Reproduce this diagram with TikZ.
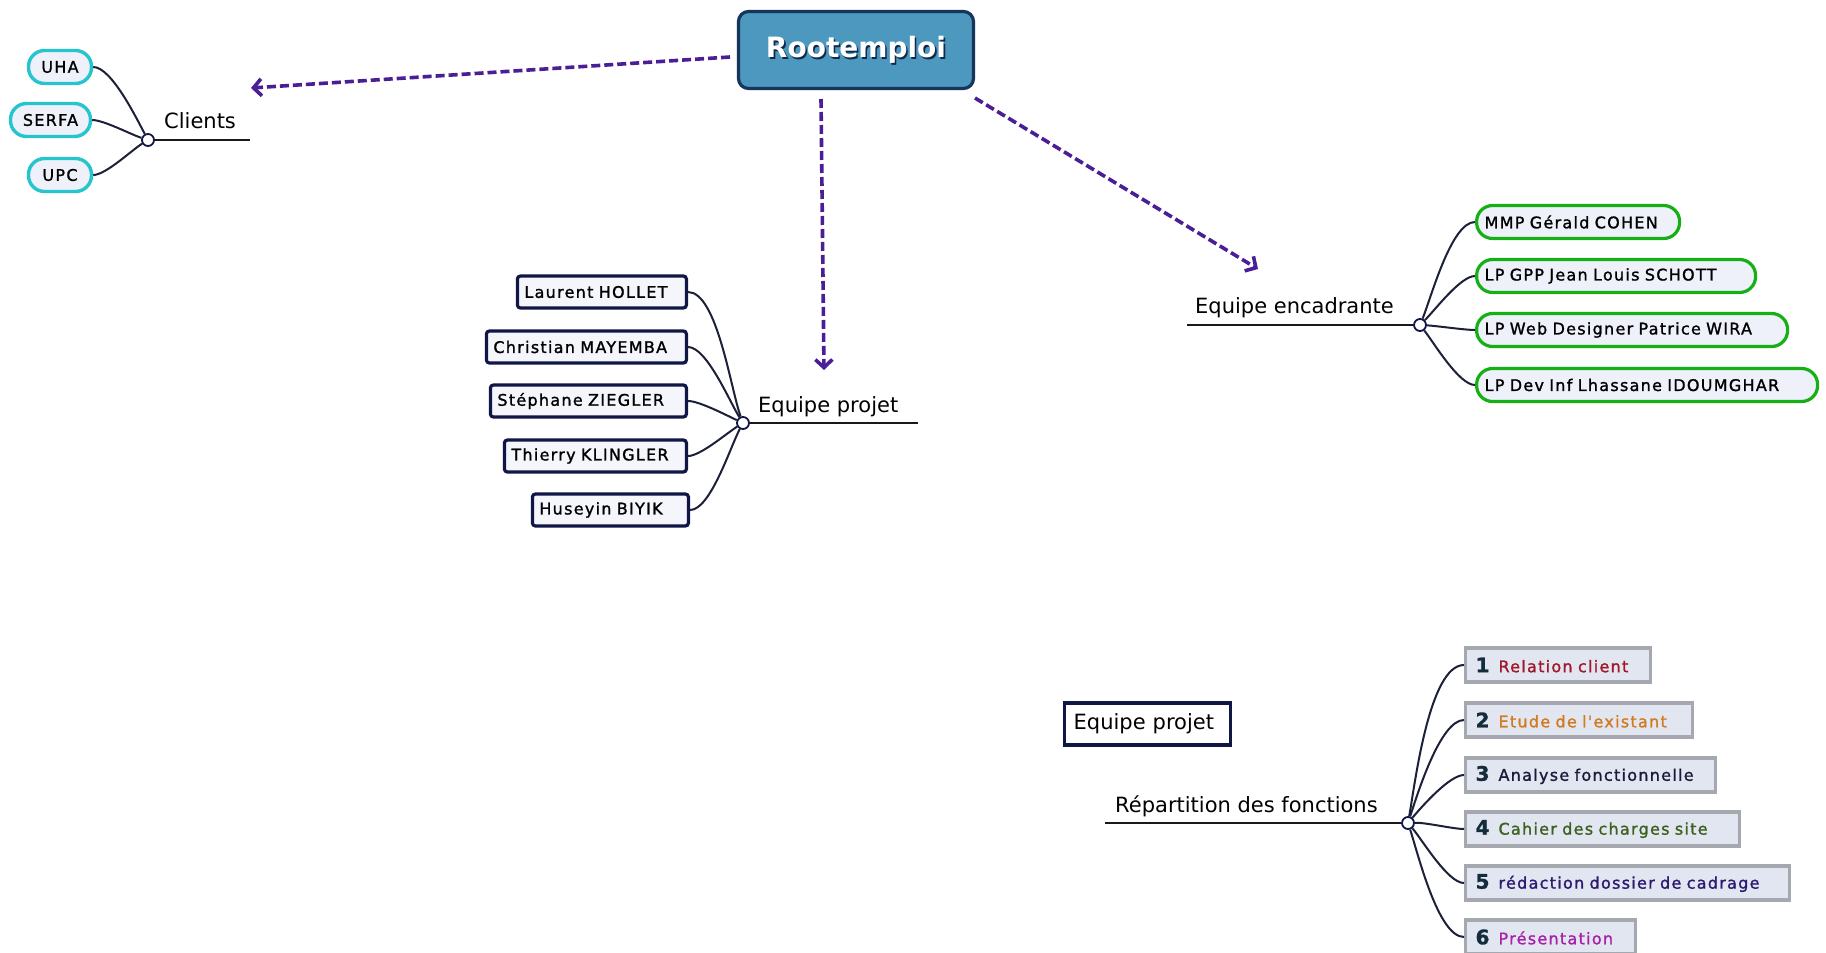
\documentclass[tikz,border=0pt]{standalone}
\usepackage{fontspec}
\setmainfont{DejaVu Sans}
\newfontfamily\boxfont[LetterSpace=8,FakeBold=1.3]{DejaVu Sans}
\usetikzlibrary{arrows.meta,calc}
\definecolor{cyanB}{RGB}{38,196,204}
\definecolor{pillfill}{RGB}{238,240,250}
\definecolor{navyB}{RGB}{16,22,70}
\definecolor{boxfill}{RGB}{244,246,252}
\definecolor{greenB}{RGB}{22,176,22}
\definecolor{grayB}{RGB}{166,168,176}
\definecolor{grayfill}{RGB}{226,230,240}
\definecolor{rootfill}{RGB}{76,152,190}
\definecolor{rootborder}{RGB}{22,52,92}
\definecolor{arrowc}{RGB}{74,30,150}
\definecolor{linkc}{RGB}{28,32,56}
\definecolor{numc}{RGB}{20,44,60}
\definecolor{cA}{RGB}{160,24,44}
\definecolor{cB}{RGB}{210,122,32}
\definecolor{cC}{RGB}{26,26,60}
\definecolor{cD}{RGB}{60,96,32}
\definecolor{cE}{RGB}{42,26,112}
\definecolor{cF}{RGB}{168,32,168}
\newcommand{\bxf}{\boxfont\fontsize{16}{19}\selectfont}
\newcommand{\labf}{\fontsize{21}{25}\selectfont}
\newcommand{\numf}[1]{{\fontsize{20}{20}\selectfont\bfseries\color{numc}#1}\hspace{9pt}}
\tikzset{
  rootbox/.style={draw=rootborder, line width=3.2pt, fill=rootfill, rounded corners=10pt, minimum width=235pt, minimum height=77pt, inner sep=0pt},
  pill/.style={draw=cyanB, line width=3.4pt, fill=pillfill, rounded corners=16pt, minimum height=33pt, inner sep=0pt, font=\bxf},
  navybox/.style={draw=navyB, line width=3.2pt, fill=boxfill, rounded corners=3pt, minimum height=32pt, inner ysep=0pt, inner xsep=7pt, align=left, font=\bxf, anchor=east},
  greenbox/.style={draw=greenB, line width=3.2pt, fill=pillfill, rounded corners=16pt, minimum height=33pt, inner ysep=0pt, inner xsep=8pt, align=left, font=\bxf, anchor=west},
  graybox/.style={draw=grayB, line width=3.2pt, fill=grayfill, minimum height=34pt, inner ysep=0pt, inner xsep=10pt, align=left, font=\bxf, anchor=west},
  epbox/.style={draw=navyB, line width=3.4pt, fill=white, minimum height=42pt, inner ysep=0pt, inner xsep=9pt, align=left, font=\labf, anchor=west},
  hub/.style={circle, draw=navyB, fill=white, line width=1.8pt, minimum size=12pt, inner sep=0pt},
  lab/.style={inner sep=0pt, font=\labf, anchor=base west},
  link/.style={draw=linkc, line width=2pt, looseness=0.55},
  uline/.style={draw=black!90, line width=2pt},
  dasharrow/.style={draw=arrowc, line width=3.6pt, dash pattern=on 9pt off 4pt, -{Straight Barb[length=8pt,width=17pt]}}
}
\begin{document}
\begin{tikzpicture}[x=1pt,y=1pt]
\useasboundingbox (0,0) rectangle (1826,-953);
\fill[white] (0,0) rectangle (1826,-953);

% Root
\node[rootbox] (root) at (856,-50) {};
\node[font=\bfseries\fontsize{28}{30}\selectfont, text=rootborder!80!black, inner sep=0pt] (rootshadow) at ([shift={(1.6,-1.6)}]root.center) {Rootemploi};
\node[font=\bfseries\fontsize{28}{30}\selectfont, text=white, inner sep=0pt] (roottext) at (root.center) {Rootemploi};

% Clients
\node[pill, minimum width=63pt] (uha) at (60,-67) {UHA};
\node[pill, minimum width=80pt] (serfa) at (50.5,-120) {SERFA};
\node[pill, minimum width=63pt] (upc) at (60,-175) {UPC};
\node[hub] (hc) at (148,-140) {};
\coordinate (ce) at (250,-140);
\draw[uline] (hc.east) -- (ce);
\node[lab] (clients) at (164,-128) {Clients};
\draw[link] (hc) to[out=118,in=0] (uha.east);
\draw[link] (hc) to[out=162,in=0] (serfa.east);
\draw[link] (hc) to[out=212,in=0] (upc.east);

% Equipe projet
\node[navybox, text width=155pt] (lh) at (688,-292) {Laurent HOLLET};
\node[navybox, text width=186pt] (cm) at (688,-347) {Christian MAYEMBA};
\node[navybox, text width=182pt] (sz) at (688,-401) {Stéphane ZIEGLER};
\node[navybox, text width=168pt] (tk) at (688,-456) {Thierry KLINGLER};
\node[navybox, text width=142pt] (hb) at (690,-510) {Huseyin BIYIK};
\node[hub] (hp) at (743,-423) {};
\coordinate (pe) at (918,-423);
\draw[uline] (hp.east) -- (pe);
\node[lab] (projet) at (758,-412) {Equipe projet};
\draw[link] (hp) to[out=110,in=0] (lh.east);
\draw[link] (hp) to[out=122,in=0] (cm.east);
\draw[link] (hp) to[out=155,in=0] (sz.east);
\draw[link] (hp) to[out=212,in=0] (tk.east);
\draw[link] (hp) to[out=242,in=0] (hb.east);

% Equipe encadrante
\node[greenbox, text width=187pt] (g1) at (1475,-222) {MMP Gérald COHEN};
\node[greenbox, text width=263pt] (g2) at (1475,-276) {LP GPP Jean Louis SCHOTT};
\node[greenbox, text width=295pt] (g3) at (1475,-330) {LP Web Designer Patrice WIRA};
\node[greenbox, text width=325pt] (g4) at (1475,-385) {LP Dev Inf Lhassane IDOUMGHAR};
\node[hub] (he) at (1420,-325) {};
\coordinate (es) at (1187,-325);
\draw[uline] (es) -- (he.west);
\node[lab] (encadrante) at (1195,-313) {Equipe encadrante};
\draw[link] (he) to[out=68,in=180] (g1.west);
\draw[link] (he) to[out=45,in=180] (g2.west);
\draw[link] (he) to[out=-3,in=180] (g3.west);
\draw[link] (he) to[out=-52,in=180] (g4.west);

% Repartition
\node[epbox, text width=148pt] (epb) at (1063,-724) {Equipe projet};
\node[graybox, text width=165pt] (r1) at (1464,-665) {\numf{1}\textcolor{cA}{Relation client}};
\node[graybox, text width=207pt] (r2) at (1464,-720) {\numf{2}\textcolor{cB}{Etude de l'existant}};
\node[graybox, text width=230pt] (r3) at (1464,-775) {\numf{3}\textcolor{cC}{Analyse fonctionnelle}};
\node[graybox, text width=254pt] (r4) at (1464,-829) {\numf{4}\textcolor{cD}{Cahier des charges site}};
\node[graybox, text width=304pt] (r5) at (1464,-883) {\numf{5}\textcolor{cE}{rédaction dossier de cadrage}};
\node[graybox, text width=150pt] (r6) at (1464,-937) {\numf{6}\textcolor{cF}{Présentation}};
\node[hub] (hr) at (1408,-823) {};
\coordinate (rs) at (1105,-823);
\draw[uline] (rs) -- (hr.west);
\node[lab] (repart) at (1115,-812) {Répartition des fonctions};
\draw[link] (hr) to[out=80,in=180] (r1.west);
\draw[link] (hr) to[out=72,in=180] (r2.west);
\draw[link] (hr) to[out=50,in=180] (r3.west);
\draw[link] (hr) to[out=2,in=180] (r4.west);
\draw[link] (hr) to[out=-50,in=180] (r5.west);
\draw[link] (hr) to[out=-72,in=180] (r6.west);

% dashed arrows
\coordinate (a1s) at (730,-57);
\coordinate (a1e) at (251,-88);
\coordinate (a2s) at (821,-99);
\coordinate (a2e) at (824,-370);
\coordinate (a3s) at (975,-98);
\coordinate (a3e) at (1258,-269);
\draw[dasharrow] (a1s) -- (a1e);
\draw[dasharrow] (a2s) -- (a2e);
\draw[dasharrow] (a3s) -- (a3e);
\end{tikzpicture}
\end{document}
